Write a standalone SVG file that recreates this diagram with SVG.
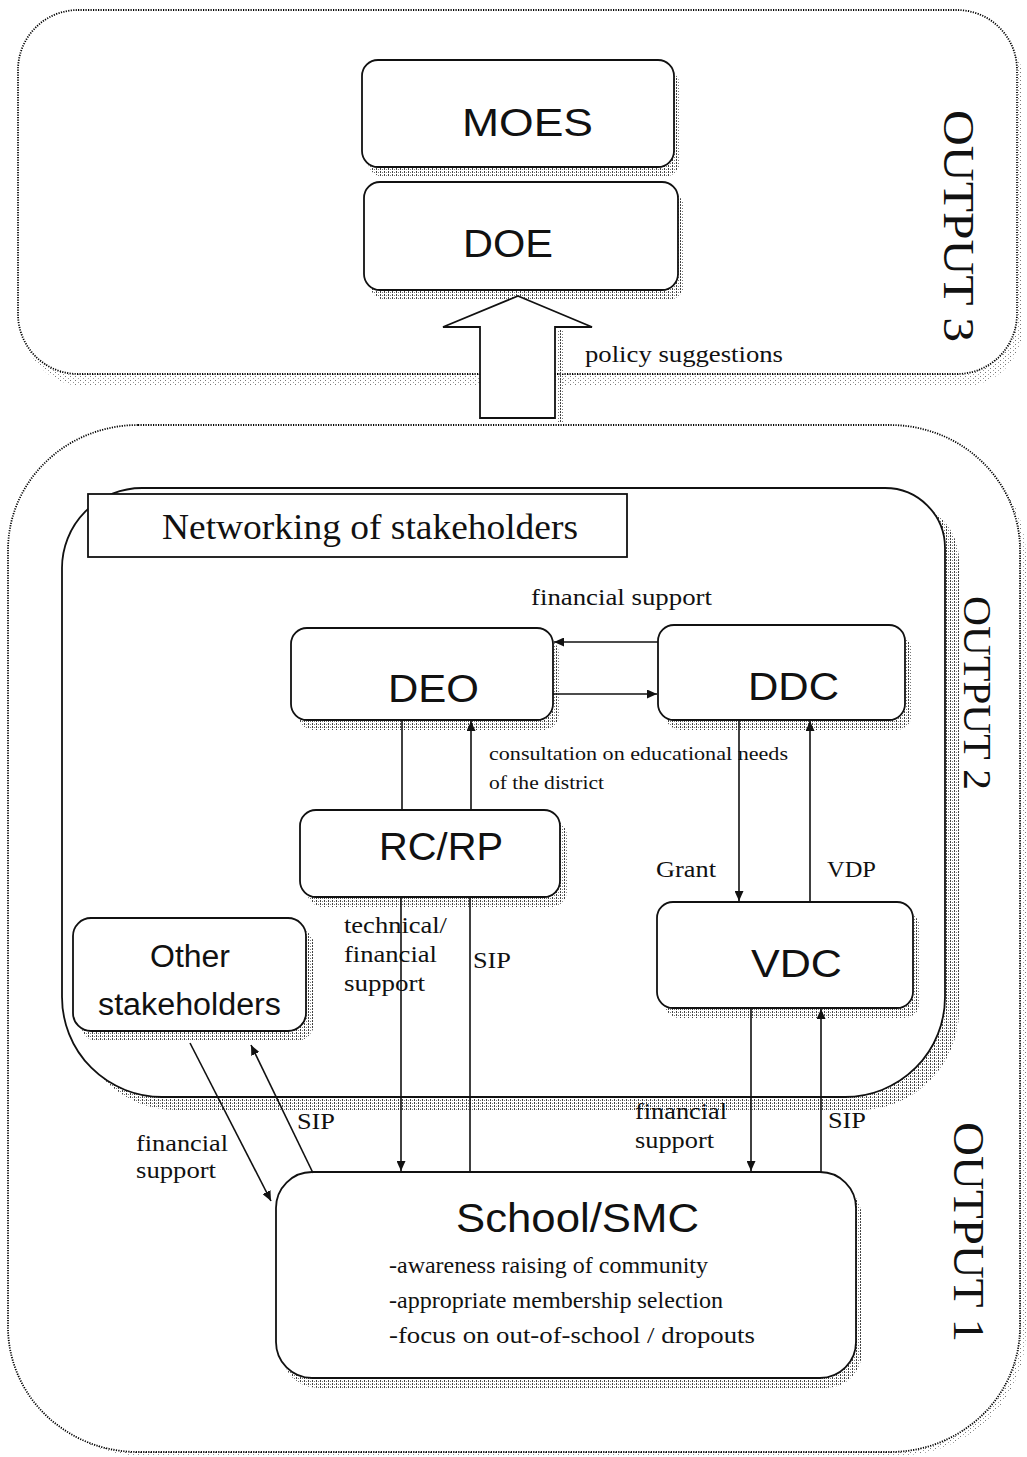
<svg xmlns="http://www.w3.org/2000/svg" width="1027" height="1457" viewBox="0 0 1027 1457">
  <defs>
    <!-- stippled drop shadow used under boxes -->
    <pattern id="grain" width="4" height="3" patternUnits="userSpaceOnUse">
      <rect x="0" y="0" width="1" height="2" fill="#444"/>
      <rect x="2" y="1" width="1" height="1" fill="#777"/>
    </pattern>
    <pattern id="grainLight" width="5" height="4" patternUnits="userSpaceOnUse">
      <rect x="0" y="0" width="1" height="1" fill="#777"/>
      <rect x="3" y="2" width="1" height="1" fill="#999"/>
    </pattern>
    <marker id="arr" markerUnits="userSpaceOnUse" markerWidth="11" markerHeight="9" refX="10" refY="4.5" orient="auto">
      <path d="M0,0 L10,4.5 L0,9 Z" fill="#111"/>
    </marker>
    <style>
      .sans { font-family: "Liberation Sans", Arial, sans-serif; fill: #111; }
      .serif { font-family: "Liberation Serif", "Times New Roman", serif; fill: #111; }
      .frame { fill: #fff; stroke: #000; stroke-width: 1.8; stroke-dasharray: 1.2 1.3; }
      .box { fill: #fff; stroke: #111; stroke-width: 1.8; }
      .shadow { fill: url(#grain); }
      .link { fill: none; stroke: #111; stroke-width: 1.6; }
      .node { font-size: 38px; text-anchor: start; }
      .lbl { font-size: 23px; }
    </style>
  </defs>

  <!-- OUTPUT 3 frame -->
  <g id="output3">
    <rect x="24" y="22" width="999" height="364" rx="60" fill="url(#grainLight)"/>
    <rect class="frame" x="18" y="10" width="999" height="364" rx="60"/>
    <text class="serif" font-size="44" textLength="232" lengthAdjust="spacingAndGlyphs" transform="translate(944,110) rotate(90)">OUTPUT 3</text>
  </g>

  <!-- OUTPUT 1/2 frame -->
  <g id="output12">
    <rect x="14" y="432" width="1012" height="1024" rx="130" ry="125" fill="url(#grainLight)"/>
    <rect class="frame" x="8" y="425" width="1012" height="1027" rx="130" ry="125"/>
    <text class="serif" font-size="44" textLength="220" lengthAdjust="spacingAndGlyphs" transform="translate(954,1122) rotate(90)">OUTPUT 1</text>
  </g>

  <!-- networking area -->
  <g id="networking">
    <path class="shadow" transform="translate(14,13)" d="M142,488 H885 A60,60 0 0 1 945,548 V997 A100,100 0 0 1 845,1097 H162 A100,100 0 0 1 62,997 V568 A80,80 0 0 1 142,488 Z"/>
    <path class="box" d="M142,488 H885 A60,60 0 0 1 945,548 V997 A100,100 0 0 1 845,1097 H162 A100,100 0 0 1 62,997 V568 A80,80 0 0 1 142,488 Z"/>
    <text class="serif" font-size="40" textLength="194" lengthAdjust="spacingAndGlyphs" transform="translate(964,596) rotate(90)">OUTPUT 2</text>
  </g>

  <g id="networking-title">
    <rect x="88" y="494" width="539" height="63" fill="#fff" stroke="#111" stroke-width="1.8"/>
    <text class="serif" x="162" y="539" font-size="36" textLength="416" lengthAdjust="spacingAndGlyphs">Networking of stakeholders</text>
  </g>

  <!-- nodes -->
  <g id="moes">
    <rect class="shadow" x="368" y="70" width="312" height="107" rx="16"/>
    <rect class="box" x="362" y="60" width="312" height="107" rx="16"/>
    <text class="sans node" x="462" y="136" textLength="131" lengthAdjust="spacingAndGlyphs">MOES</text>
  </g>

  <g id="doe">
    <rect class="shadow" x="370" y="192" width="314" height="108" rx="16"/>
    <rect class="box" x="364" y="182" width="314" height="108" rx="16"/>
    <text class="sans node" x="463" y="257" textLength="90" lengthAdjust="spacingAndGlyphs">DOE</text>
  </g>

  <g id="policy-arrow">
    <rect class="shadow" x="557" y="330" width="7" height="92"/>
    <polygon points="518,296 592,327 555,327 555,418 480,418 480,327 443,327" fill="#fff" stroke="#111" stroke-width="1.8"/>
    <text class="serif" x="585" y="362" font-size="24" textLength="198" lengthAdjust="spacingAndGlyphs">policy suggestions</text>
  </g>

  <g id="deo">
    <rect class="shadow" x="298" y="638" width="261" height="92" rx="16"/>
    <rect class="box" x="291" y="628" width="262" height="92" rx="16"/>
    <text class="sans node" x="388" y="702" textLength="91" lengthAdjust="spacingAndGlyphs">DEO</text>
  </g>

  <g id="ddc">
    <rect class="shadow" x="665" y="635" width="247" height="95" rx="16"/>
    <rect class="box" x="658" y="625" width="247" height="95" rx="16"/>
    <text class="sans node" x="748" y="700" textLength="91" lengthAdjust="spacingAndGlyphs">DDC</text>
  </g>

  <g id="rcrp">
    <rect class="shadow" x="307" y="820" width="260" height="87" rx="16"/>
    <rect class="box" x="300" y="810" width="260" height="87" rx="16"/>
    <text class="sans node" x="379" y="860" textLength="124" lengthAdjust="spacingAndGlyphs">RC/RP</text>
  </g>

  <g id="vdc">
    <rect class="shadow" x="664" y="912" width="256" height="106" rx="16"/>
    <rect class="box" x="657" y="902" width="256" height="106" rx="16"/>
    <text class="sans node" x="751" y="977" textLength="91" lengthAdjust="spacingAndGlyphs">VDC</text>
  </g>

  <g id="other-stakeholders">
    <rect class="shadow" x="80" y="928" width="234" height="113" rx="18"/>
    <rect class="box" x="73" y="918" width="233" height="113" rx="18"/>
    <text class="sans" x="150" y="967" font-size="31" textLength="80" lengthAdjust="spacingAndGlyphs">Other</text>
    <text class="sans" x="98" y="1015" font-size="31" textLength="183" lengthAdjust="spacingAndGlyphs">stakeholders</text>
  </g>

  <g id="school">
    <rect class="shadow" x="282" y="1182" width="580" height="206" rx="36"/>
    <rect class="box" x="276" y="1172" width="580" height="206" rx="36"/>
    <text class="sans" x="456" y="1232" font-size="40" textLength="243" lengthAdjust="spacingAndGlyphs">School/SMC</text>
    <text class="serif lbl" x="389" y="1273" textLength="319" lengthAdjust="spacingAndGlyphs">-awareness raising of community</text>
    <text class="serif lbl" x="389" y="1308" textLength="334" lengthAdjust="spacingAndGlyphs">-appropriate membership selection</text>
    <text class="serif lbl" x="389" y="1343" textLength="366" lengthAdjust="spacingAndGlyphs">-focus on out-of-school / dropouts</text>
  </g>

  <!-- connector labels -->
  <g id="labels">
    <text class="serif lbl" x="531" y="605" textLength="181" lengthAdjust="spacingAndGlyphs">financial support</text>
    <text class="serif" x="489" y="760" font-size="19" textLength="299" lengthAdjust="spacingAndGlyphs">consultation   on educational needs</text>
    <text class="serif" x="489" y="789" font-size="19" textLength="115" lengthAdjust="spacingAndGlyphs">of the district</text>
    <text class="serif lbl" x="656" y="877" textLength="60" lengthAdjust="spacingAndGlyphs">Grant</text>
    <text class="serif lbl" x="827" y="877" textLength="49" lengthAdjust="spacingAndGlyphs">VDP</text>
    <text class="serif lbl" x="344" y="933" textLength="103" lengthAdjust="spacingAndGlyphs">technical/</text>
    <text class="serif lbl" x="344" y="962" textLength="93" lengthAdjust="spacingAndGlyphs">financial</text>
    <text class="serif lbl" x="344" y="991" textLength="81" lengthAdjust="spacingAndGlyphs">support</text>
    <text class="serif lbl" x="473" y="968" textLength="38" lengthAdjust="spacingAndGlyphs">SIP</text>
    <text class="serif lbl" x="297" y="1129" textLength="38" lengthAdjust="spacingAndGlyphs">SIP</text>
    <text class="serif lbl" x="136" y="1151" textLength="92" lengthAdjust="spacingAndGlyphs">financial</text>
    <text class="serif lbl" x="136" y="1178" textLength="80" lengthAdjust="spacingAndGlyphs">support</text>
    <text class="serif lbl" x="635" y="1119" textLength="92" lengthAdjust="spacingAndGlyphs">financial</text>
    <text class="serif lbl" x="635" y="1148" textLength="79" lengthAdjust="spacingAndGlyphs">support</text>
    <text class="serif lbl" x="828" y="1128" textLength="38" lengthAdjust="spacingAndGlyphs">SIP</text>
  </g>

  <!-- connectors -->
  <g id="connectors">
    <path class="link" d="M658,642 H554" marker-end="url(#arr)"/>
    <path class="link" d="M553,694 H657" marker-end="url(#arr)"/>
    <path class="link" d="M402,720 V810"/>
    <path class="link" d="M471,810 V721" marker-end="url(#arr)"/>
    <path class="link" d="M739,720 V901" marker-end="url(#arr)"/>
    <path class="link" d="M810,902 V721" marker-end="url(#arr)"/>
    <path class="link" d="M401,897 V1171" marker-end="url(#arr)"/>
    <path class="link" d="M470,1172 V897"/>
    <path class="link" d="M751,1008 V1171" marker-end="url(#arr)"/>
    <path class="link" d="M821,1172 V1009" marker-end="url(#arr)"/>
    <path class="link" d="M190,1043 L271,1201" marker-end="url(#arr)"/>
    <path class="link" d="M313,1173 L251,1045" marker-end="url(#arr)"/>
  </g>
</svg>
